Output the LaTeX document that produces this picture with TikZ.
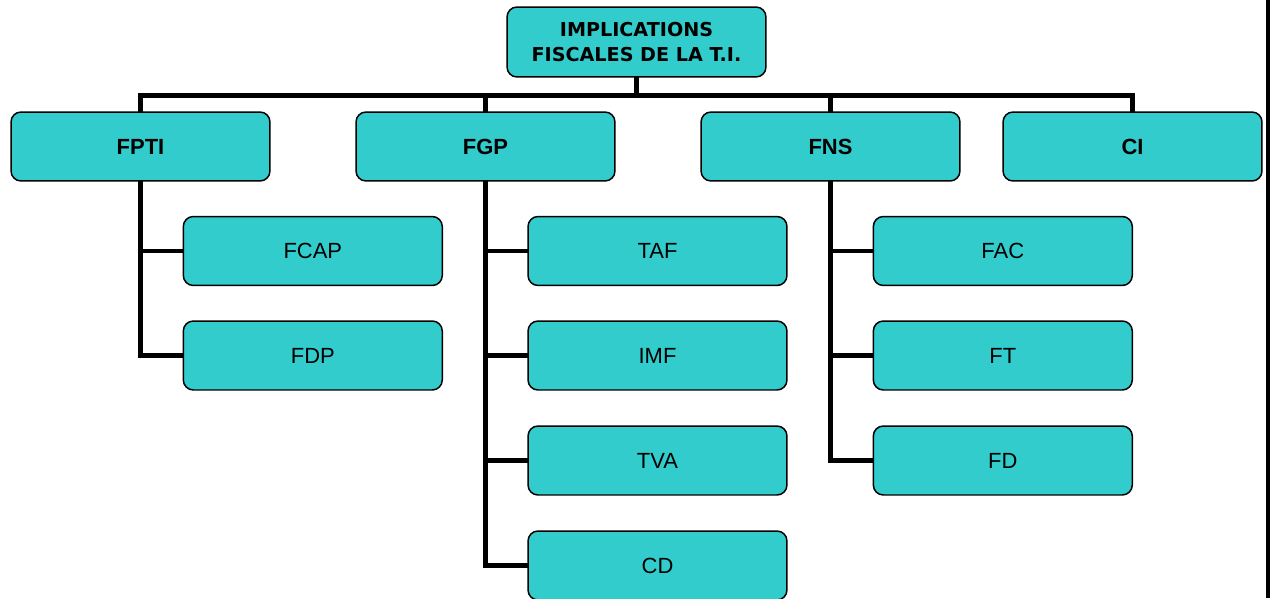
\documentclass[tikz,border=0pt]{standalone}
\usepackage{fontspec}
\usetikzlibrary{backgrounds}
\setmainfont{Liberation Sans}
\newfontfamily\headfont{DejaVu Sans}
\definecolor{boxfill}{HTML}{33CCCC}
\begin{document}
\begin{tikzpicture}[x=0.02cm,y=-0.02cm,
  box/.style={draw=black,line width=0.85pt,fill=boxfill,rounded corners=0.2cm,
    minimum width=5.18cm,minimum height=1.38cm,inner sep=0pt,align=center,
    font=\fontsize{12.5}{14}\selectfont},
  headbox/.style={box,font=\bfseries\fontsize{12.5}{14}\selectfont},
  rootbox/.style={box,minimum height=1.40cm,
    font=\headfont\bfseries\fontsize{10.9}{14.2}\selectfont},
  conn/.style={draw=black,line width=2.8pt,line cap=butt}]
\useasboundingbox (0,0) rectangle (1270,598);
\clip (0,0) rectangle (1270,598);

% boxes
\coordinate (bus) at (0,95.5);
\node[rootbox] (root) at (636.5,42) {IMPLICATIONS\\FISCALES DE LA T.I.};
\node[headbox] (fpti) at (140.5,146.5) {FPTI};
\node[headbox] (fgp)  at (485.5,146.5) {FGP};
\node[headbox] (fns)  at (830.5,146.5) {FNS};
\node[headbox] (ci)   at (1132.5,146.5) {CI};

\node[box] (fcap) at (312.8,251) {FCAP};
\node[box] (fdp)  at (312.8,355.5) {FDP};

\node[box] (taf) at (657.5,251) {TAF};
\node[box] (imf) at (657.5,355.5) {IMF};
\node[box] (tva) at (657.5,460.5) {TVA};
\node[box] (cd)  at (657.5,565.5) {CD};

\node[box] (fac) at (1002.8,251) {FAC};
\node[box] (ft)  at (1002.8,355.5) {FT};
\node[box] (fd)  at (1002.8,460.5) {FD};

% connectors, kept behind the boxes
\begin{scope}[on background layer]
  % top-level bus
  \draw[conn] (root.center) -- (root.center |- bus);
  \draw[conn,line join=miter] (fpti.center) -- (fpti.center |- bus) -- (ci.center |- bus) -- (ci.center);
  \draw[conn] (fgp.center |- bus) -- (fgp.center);
  \draw[conn] (fns.center |- bus) -- (fns.center);

  % FPTI branch
  \draw[conn,line join=miter] (fpti.center) -- (fpti.center |- fdp.west) -- (fdp.center);
  \draw[conn] (fpti.center |- fcap.west) -- (fcap.center);

  % FGP branch
  \draw[conn,line join=miter] (fgp.center) -- (fgp.center |- cd.west) -- (cd.center);
  \draw[conn] (fgp.center |- taf.west) -- (taf.center);
  \draw[conn] (fgp.center |- imf.west) -- (imf.center);
  \draw[conn] (fgp.center |- tva.west) -- (tva.center);

  % FNS branch
  \draw[conn,line join=miter] (fns.center) -- (fns.center |- fd.west) -- (fd.center);
  \draw[conn] (fns.center |- fac.west) -- (fac.center);
  \draw[conn] (fns.center |- ft.west) -- (ft.center);
\end{scope}

% right edge rule
\fill[black] (1265.7,0) rectangle (1270,598);
\end{tikzpicture}
\end{document}
